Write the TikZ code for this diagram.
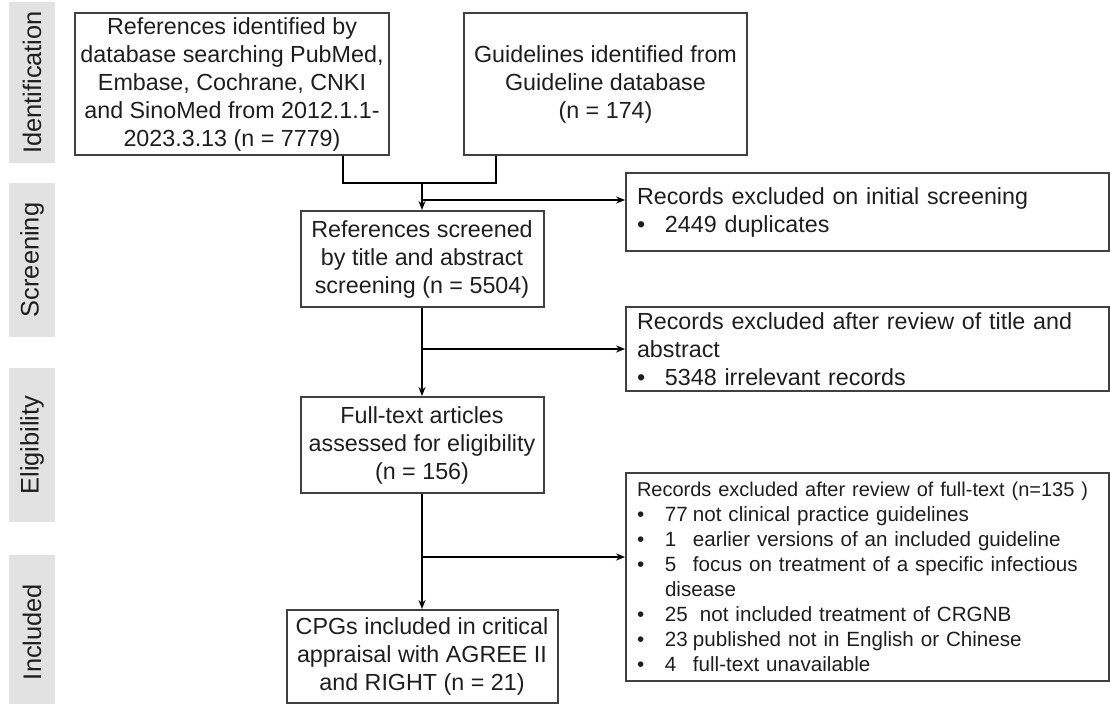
\documentclass[tikz,border=0pt]{standalone}
\usepackage{fontspec}
\setmainfont{Liberation Sans}
\usetikzlibrary{positioning,arrows.meta,calc}
\definecolor{pfGray}{RGB}{64,64,64}
\definecolor{pfBand}{RGB}{226,226,226}
\definecolor{pfText}{RGB}{30,30,30}
\tikzset{
    base/.style={font=\fontsize{11.65}{14}\selectfont, text=pfText},
    stage/.style={base, rectangle, draw=pfGray, line width=1pt, align=center, inner sep=0pt},
    exclude/.style={base, rectangle, draw=pfGray, line width=0.9pt, align=left,
                    inner xsep=5.5pt, inner ysep=0pt, text width=230.5pt},
    phase/.style={rectangle, fill=pfBand, rotate=90, font=\fontsize{12.7}{14}\selectfont,
                  text=pfText, inner sep=0pt, minimum height=23pt},
    link/.style={line width=1.1pt, color=black},
    flow/.style={link, -{Stealth[length=4.5pt,width=3.5pt]}}
}
\newcommand{\bul}{\makebox[14pt][l]{\textbullet}}
\newcommand{\cnt}[1]{\makebox[14pt][l]{#1}}

\begin{document}
\begin{tikzpicture}[x=0.5pt, y=-0.5pt]
  \useasboundingbox (0,0) rectangle (1110,704);

  % phase bands on the left
  \node[phase, minimum width=80.5pt] (pid) at (32,82.5) {Identification};
  \node[phase, minimum width=77pt] (pscr) at (32,260) {Screening};
  \node[phase, minimum width=77pt] (pel) at (32,445) {Eligibility};
  \node[phase, minimum width=77pt] (pinc) at (32,632) {Included};

  % main stages
  \node[stage, minimum width=157pt, minimum height=71pt] (refs) at (232,84) {
    References identified by\\
    database searching PubMed,\\
    Embase, Cochrane, CNKI\\
    and SinoMed from 2012.1.1-\\
    2023.3.13 (n = 7779)};
  \node[stage, minimum width=141.5pt, minimum height=71pt] (guide) at (605.5,84) {
    Guidelines identified from\\
    Guideline database\\
    (n = 174)};
  \node[stage, minimum width=121.5pt, minimum height=48pt] (screen) at (422,259) {
    References screened\\
    by title and abstract\\
    screening (n = 5504)};
  \node[stage, minimum width=121.5pt, minimum height=48pt] (full) at (422,445) {
    Full-text articles\\
    assessed for eligibility\\
    (n = 156)};
  \node[stage, minimum width=135.5pt, minimum height=46.5pt] (incl) at (422,656.5) {
    CPGs included in critical\\
    appraisal with AGREE II\\
    and RIGHT (n = 21)};

  % exclusion boxes
  \node[exclude, minimum height=39pt] (ex1) at (867.5,212) {
    Records excluded on initial screening\\
    \bul 2449 duplicates};
  \node[exclude, minimum height=42pt] (ex2) at (867.5,349) {
    Records excluded after review of title and\\
    abstract\\
    \bul 5348 irrelevant records};
  \node[exclude, minimum height=104pt, font=\fontsize{10.3}{12.5}\selectfont] (ex3) at (867.5,577) {
    {\fontsize{10}{12.5}\selectfont Records excluded after review of full-text (n=135 )}\\
    \bul\cnt{77}not clinical practice guidelines\\
    \bul\cnt{1}earlier versions of an included guideline\\
    \bul\cnt{5}focus on treatment of a specific infectious\\
    \hspace*{14pt}disease\\
    \bul\cnt{25}\hspace{3.5pt}not included treatment of CRGNB\\
    \bul\cnt{23}published not in English or Chinese\\
    \bul\cnt{4}full-text unavailable};

  % connectors
  \coordinate (join) at (422,183);
  \coordinate (cut1) at (422,200);
  \coordinate (cut2) at (422,349);
  \coordinate (cut3) at (422,557);
  \draw[link] ($(refs.south west)!0.85!(refs.south east)$) |- (join)
              -| ($(guide.south west)!0.117!(guide.south east)$);
  \draw[flow] (join) -- (screen.north);
  \draw[flow] (cut1) -- (cut1 -| ex1.west);
  \draw[flow] (screen.south) -- (full.north);
  \draw[flow] (cut2) -- (cut2 -| ex2.west);
  \draw[flow] (full.south) -- (incl.north);
  \draw[flow] (cut3) -- (cut3 -| ex3.west);
\end{tikzpicture}
\end{document}
